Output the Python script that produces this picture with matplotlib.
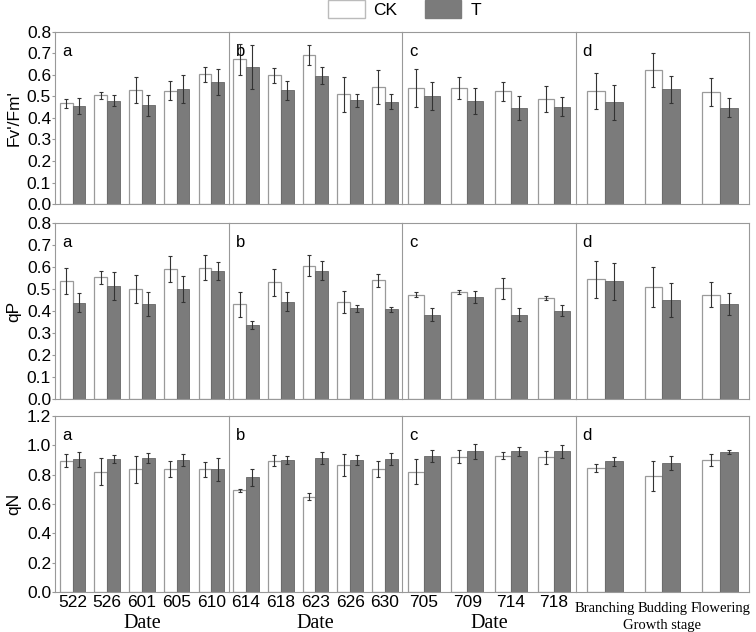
import matplotlib
matplotlib.use("Agg")
import matplotlib.pyplot as plt
from matplotlib.patches import Patch

# panel groups (x categories)
groups_a = ["522", "526", "601", "605", "610"]
groups_b = ["614", "618", "623", "626", "630"]
groups_c = ["705", "709", "714", "718"]
groups_d = ["Branching", "Budding", "Flowering"]
panel_groups = [groups_a, groups_b, groups_c, groups_d]
panel_letters = ["a", "b", "c", "d"]
panel_xlabels = ["Date", "Date", "Date", "Growth stage"]

# Fv'/Fm'
fv_ck = [[0.467, 0.504, 0.529, 0.526, 0.602],
         [0.671, 0.597, 0.691, 0.509, 0.543],
         [0.538, 0.538, 0.523, 0.486],
         [0.524, 0.622, 0.520]]
fv_ck_err = [[0.02, 0.015, 0.06, 0.045, 0.035],
             [0.07, 0.035, 0.045, 0.08, 0.08],
             [0.087, 0.05, 0.045, 0.06],
             [0.085, 0.077, 0.067]]
fv_t = [[0.455, 0.479, 0.458, 0.535, 0.565],
        [0.636, 0.528, 0.595, 0.481, 0.475],
        [0.501, 0.478, 0.447, 0.452],
        [0.472, 0.532, 0.447]]
fv_t_err = [[0.035, 0.025, 0.05, 0.065, 0.06],
            [0.10, 0.045, 0.04, 0.03, 0.035],
            [0.065, 0.06, 0.055, 0.045],
            [0.08, 0.063, 0.043]]

# qP
qp_ck = [[0.536, 0.553, 0.499, 0.590, 0.597],
         [0.430, 0.530, 0.606, 0.440, 0.539],
         [0.474, 0.485, 0.503, 0.459],
         [0.544, 0.509, 0.474]]
qp_ck_err = [[0.06, 0.03, 0.063, 0.059, 0.058],
             [0.058, 0.063, 0.048, 0.05, 0.03],
             [0.01, 0.01, 0.048, 0.01],
             [0.085, 0.093, 0.058]]
qp_t = [[0.438, 0.514, 0.432, 0.501, 0.582],
        [0.336, 0.442, 0.583, 0.412, 0.408],
        [0.383, 0.464, 0.383, 0.401],
        [0.535, 0.449, 0.432]]
qp_t_err = [[0.043, 0.063, 0.055, 0.06, 0.042],
            [0.017, 0.042, 0.044, 0.015, 0.012],
            [0.03, 0.028, 0.03, 0.024],
            [0.085, 0.077, 0.05]]

# qN
qn_ck = [[0.896, 0.821, 0.835, 0.841, 0.835],
         [0.694, 0.896, 0.651, 0.864, 0.841],
         [0.821, 0.923, 0.930, 0.918],
         [0.846, 0.791, 0.900]]
qn_ck_err = [[0.043, 0.093, 0.093, 0.055, 0.052],
             [0.01, 0.035, 0.027, 0.076, 0.055],
             [0.086, 0.046, 0.024, 0.043],
             [0.028, 0.10, 0.038]]
qn_t = [[0.905, 0.907, 0.912, 0.900, 0.835],
        [0.782, 0.900, 0.912, 0.900, 0.907],
        [0.927, 0.959, 0.959, 0.959],
        [0.891, 0.880, 0.952]]
qn_t_err = [[0.05, 0.03, 0.034, 0.038, 0.078],
            [0.059, 0.025, 0.043, 0.035, 0.041],
            [0.043, 0.05, 0.032, 0.044],
            [0.03, 0.05, 0.014]]

rows = [
    ("Fv'/Fm'", fv_ck, fv_ck_err, fv_t, fv_t_err, 0.8, [0.0, 0.1, 0.2, 0.3, 0.4, 0.5, 0.6, 0.7, 0.8]),
    ("qP", qp_ck, qp_ck_err, qp_t, qp_t_err, 0.8, [0.0, 0.1, 0.2, 0.3, 0.4, 0.5, 0.6, 0.7, 0.8]),
    ("qN", qn_ck, qn_ck_err, qn_t, qn_t_err, 1.2, [0.0, 0.2, 0.4, 0.6, 0.8, 1.0, 1.2]),
]

row_boxes = [(0.677, 0.950), (0.369, 0.647), (0.063, 0.342)]
left, right = 0.073, 0.991
pw = (right - left) / 4
bar_w = [0.37, 0.37, 0.37, 0.31]

ck_face, ck_edge = "white", "#9a9a9a"
t_face, t_edge = "#7b7b7b", "#666666"
spine_col = "#999999"
err_kw = dict(ecolor="#333333", elinewidth=0.8, capsize=1.5, capthick=0.8)

fig = plt.figure(figsize=(7.56, 6.32), dpi=100)
plt.rcParams['font.family'] = ['Liberation Sans', 'DejaVu Sans']

for r, (ylab, ck, ck_err, t, t_err, ymax, yticks) in enumerate(rows):
    y0, y1 = row_boxes[r]
    for p in range(4):
        ax = fig.add_axes([left + p * pw, y0, pw, y1 - y0])
        n = len(panel_groups[p])
        xs = list(range(n))
        w = bar_w[p]
        ax.bar([x - w / 2 for x in xs], ck[p], w, yerr=ck_err[p], color=ck_face,
               edgecolor=ck_edge, linewidth=0.9, error_kw=err_kw)
        ax.bar([x + w / 2 for x in xs], t[p], w, yerr=t_err[p], color=t_face,
               edgecolor=t_edge, linewidth=0.6, error_kw=err_kw)
        ax.set_xlim(-0.5, n - 0.5)
        ax.set_ylim(0, ymax)
        for s in ax.spines.values():
            s.set_color(spine_col)
            s.set_linewidth(0.8)
        if p < 3:
            ax.spines["right"].set_visible(False)
        ax.text(0.04, 0.93, panel_letters[p], transform=ax.transAxes,
                fontsize=12, va="top", ha="left")
        if p == 0:
            ax.set_yticks(yticks)
            ax.set_yticklabels([f"{v:.1f}" for v in yticks], fontsize=12.5)
            ax.tick_params(axis="y", length=2, pad=1, color=spine_col)
            ax.set_ylabel(ylab, fontsize=12.5, labelpad=4)
        else:
            ax.set_yticks([])
        ax.set_xticks(xs)
        ax.tick_params(axis="x", length=0)
        if r == 2:
            if p < 3:
                ax.set_xticklabels(panel_groups[p], fontsize=12.5)
                ax.tick_params(axis="x", pad=2)
                ax.set_xlabel(panel_xlabels[p], fontsize=14.5,
                              family="Liberation Serif", labelpad=3)
            else:
                ax.set_xticklabels(panel_groups[p], fontsize=10.5,
                                   family="Liberation Serif")
                ax.tick_params(axis="x", pad=7)
                ax.set_xlabel(panel_xlabels[p], fontsize=10.5,
                              family="Liberation Serif", labelpad=3)
        else:
            ax.set_xticklabels([])

handles = [Patch(facecolor=ck_face, edgecolor="#bbbbbb", label="CK"),
           Patch(facecolor=t_face, edgecolor=t_face, label="T")]
fig.legend(handles=handles, loc="upper center", bbox_to_anchor=(0.535, 1.025),
           ncol=2, frameon=False, fontsize=12.5, handlelength=2.1,
           handleheight=1.25, columnspacing=1.6, handletextpad=0.5)

fig.savefig("out.png", dpi=100)
